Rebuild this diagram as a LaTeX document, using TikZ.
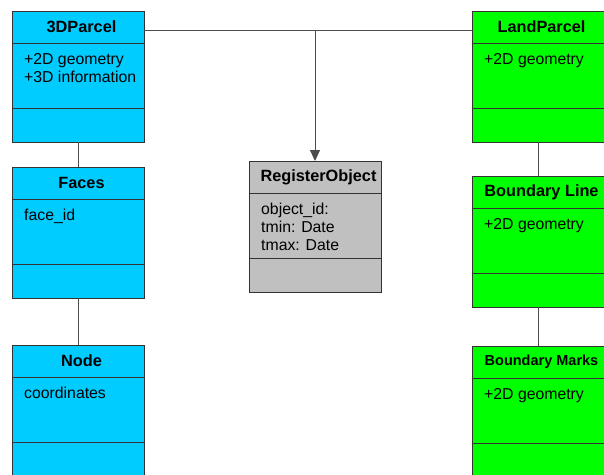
\documentclass[tikz,border=0pt]{standalone}
\usepackage{fontspec}
\setmainfont{Liberation Sans}
\usetikzlibrary{
  arrows.meta,
  positioning,
}
\definecolor{parcelblue}{RGB}{0,204,255}
\definecolor{parcelgreen}{RGB}{0,255,0}
\definecolor{regGray}{RGB}{192,192,192}
\tikzset{
  classhead/.style={draw=black!80, line width=0.9pt, minimum width=132pt,
    minimum height=32pt, inner sep=0pt, outer sep=0pt,
    execute at begin node=\hspace*{7pt},
    font=\fontsize{16.3}{18}\selectfont\bfseries},
  classattr/.style={draw=black!80, line width=0.9pt, minimum width=132pt,
    minimum height=65pt, inner sep=0pt, outer sep=0pt},
  classops/.style={draw=black!80, line width=0.9pt, minimum width=132pt,
    minimum height=34pt, inner sep=0pt, outer sep=0pt},
  attrtext/.style={anchor=north west, align=left, inner sep=0pt,
    xshift=12pt, yshift=-10pt, font=\fontsize{15.8}{18}\selectfont},
  conn/.style={draw=black!70, line width=0.9pt},
}

\begin{document}
\begin{tikzpicture}[x=1pt, y=-1pt]
      \useasboundingbox (0, 0) rectangle (604, 474);

      \node [classhead, fill=parcelblue, anchor=north west] (p3d-t) at (12, 11) {3DParcel};
      \node [classattr, fill=parcelblue, below=0pt of p3d-t,
        label={[attrtext]north west:{+2D geometry\\+3D information}}] (p3d-a) {};
      \node [classops, fill=parcelblue, below=0pt of p3d-a] (p3d-o) {};

      \node [classhead, fill=parcelblue, anchor=north west] (faces-t) at (12, 167) {Faces};
      \node [classattr, fill=parcelblue, below=0pt of faces-t,
        label={[attrtext]north west:{face\_id}}] (faces-a) {};
      \node [classops, fill=parcelblue, below=0pt of faces-a] (faces-o) {};

      \node [classhead, fill=parcelblue, anchor=north west] (node-t) at (12, 345) {Node};
      \node [classattr, fill=parcelblue, below=0pt of node-t,
        label={[attrtext]north west:{coordinates}}] (node-a) {};
      \node [classops, fill=parcelblue, below=0pt of node-a] (node-o) {};

      \node [classhead, fill=regGray, anchor=north west] (reg-t) at (249, 161) {RegisterObject};
      \node [classattr, fill=regGray, below=0pt of reg-t,
        label={[attrtext]north west:{object\_id:\\tmin: Date\\tmax: Date}}] (reg-a) {};
      \node [classops, fill=regGray, below=0pt of reg-a] (reg-o) {};

      \node [classhead, fill=parcelgreen, anchor=north west] (land-t) at (472, 11) {LandParcel};
      \node [classattr, fill=parcelgreen, below=0pt of land-t,
        label={[attrtext]north west:{+2D geometry}}] (land-a) {};
      \node [classops, fill=parcelgreen, below=0pt of land-a] (land-o) {};

      \node [classhead, fill=parcelgreen, anchor=north west] (bline-t) at (472, 176) {Boundary Line};
      \node [classattr, fill=parcelgreen, below=0pt of bline-t,
        label={[attrtext]north west:{+2D geometry}}] (bline-a) {};
      \node [classops, fill=parcelgreen, below=0pt of bline-a] (bline-o) {};

      \node [classhead, fill=parcelgreen, anchor=north west,
        font=\fontsize{14.5}{16}\selectfont\bfseries] (bmark-t) at (472, 346) {Boundary Marks};
      \node [classattr, fill=parcelgreen, below=0pt of bmark-t,
        label={[attrtext]north west:{+2D geometry}}] (bmark-a) {};
      \node [classops, fill=parcelgreen, below=0pt of bmark-a] (bmark-o) {};

      \coordinate (l1) at ([yshift=-3pt]p3d-t.east);
      \coordinate (l2) at ([yshift=-3pt]land-t.west);
      \coordinate (j) at (l1 -| reg-t.north);
      \draw [conn] (l1) -- (l2);
      \draw [conn, -{Triangle[length=11pt, width=10pt]}] (j) -- (reg-t.north);
      \draw [conn] (p3d-o.south) -- (faces-t.north);
      \draw [conn] (faces-o.south) -- (node-t.north);
      \draw [conn] (land-o.south) -- (bline-t.north);
      \draw [conn] (bline-o.south) -- (bmark-t.north);
    \end{tikzpicture}
\end{document}
